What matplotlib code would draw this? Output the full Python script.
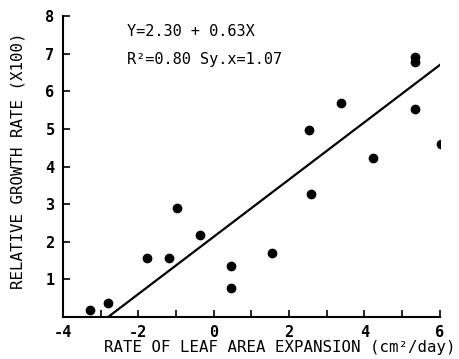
import matplotlib
matplotlib.use("Agg")
import matplotlib.pyplot as plt

# =========================
# DATA
# =========================
leaf_expansion = [-3.28, -2.81, -1.77, -1.19, -0.98, -0.37, 0.45, 0.45,
                  1.54, 2.58, 2.53, 3.37, 4.22, 5.34, 5.34, 5.34, 6.03]
growth_rate = [0.19, 0.37, 1.57, 1.57, 2.90, 2.18, 1.36, 0.77,
               1.70, 3.27, 4.97, 5.69, 4.23, 6.91, 6.78, 5.53, 4.60]

fit_x = [-2.8, 6.0]
fit_y = [0.0, 6.7]

x_ticks = [-4, -2, 0, 2, 4, 6]
x_minor = [-3, -1, 1, 3, 5]
y_ticks = [1, 2, 3, 4, 5, 6, 7, 8]

FONT = "DejaVu Sans Mono"

fig = plt.figure(figsize=(4.59, 3.59), dpi=100)
ax = fig.add_axes([0.137, 0.117, 0.821, 0.838])

ax.plot(leaf_expansion, growth_rate, "o", color="black", ms=6)
ax.plot(fit_x, fit_y, color="black", lw=1.6)

ax.set_xlim(-4, 6)
ax.set_ylim(0, 8)

for side in ["top", "right"]:
    ax.spines[side].set_visible(False)
for side in ["left", "bottom"]:
    ax.spines[side].set_linewidth(1.5)

ax.set_xticks(x_ticks)
ax.set_xticks(x_minor, minor=True)
ax.set_yticks(y_ticks)
ax.set_xticklabels([str(t) for t in x_ticks],
                   family=FONT, fontsize=11, fontweight="bold")
ax.set_yticklabels([str(t) for t in y_ticks],
                   family=FONT, fontsize=11, fontweight="bold")
ax.tick_params(which="both", direction="in", length=5, width=1.2, pad=6)

ax.set_xlabel("RATE OF LEAF AREA EXPANSION (cm²/day)",
              family=FONT, fontsize=11.3)
ax.xaxis.set_label_coords(0.575, -0.075)
ax.set_ylabel("RELATIVE GROWTH RATE (X100)",
              family=FONT, fontsize=11.3)
ax.yaxis.set_label_coords(-0.098, 0.52)

ax.text(-2.3, 7.58, "Y=2.30 + 0.63X", family=FONT, fontsize=11,
        va="center", ha="left")
ax.text(-2.3, 6.85, "R²=0.80 Sy.x=1.07", family=FONT, fontsize=11,
        va="center", ha="left")

plt.savefig("out.png", dpi=100)
plt.close()
